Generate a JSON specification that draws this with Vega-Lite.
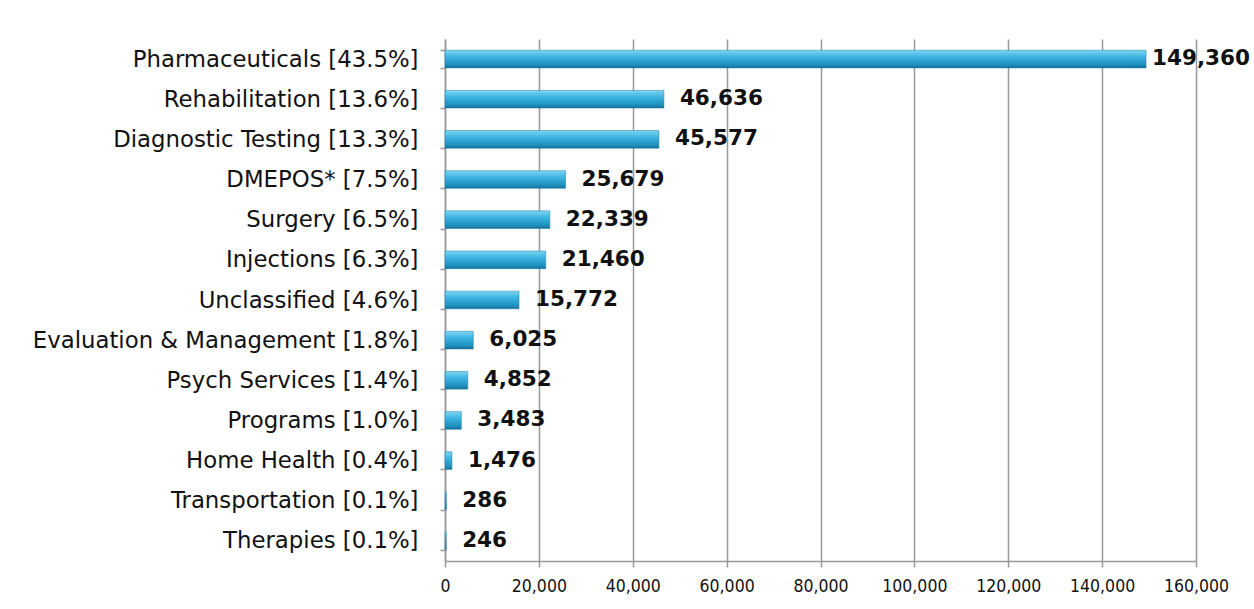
{
  "$schema": "https://vega.github.io/schema/vega-lite/v6.json",
  "autosize": {"type": "none"},
  "width": 751,
  "height": 522,
  "padding": {"left": 445, "top": 39, "right": 58, "bottom": 48},
  "background": "white",
  "config": {"view": {"stroke": null}},
  "data": {
    "values": [
      {"category": "Pharmaceuticals [43.5%]", "value": 149360},
      {"category": "Rehabilitation [13.6%]", "value": 46636},
      {"category": "Diagnostic Testing [13.3%]", "value": 45577},
      {"category": "DMEPOS* [7.5%]", "value": 25679},
      {"category": "Surgery [6.5%]", "value": 22339},
      {"category": "Injections [6.3%]", "value": 21460},
      {"category": "Unclassified [4.6%]", "value": 15772},
      {"category": "Evaluation & Management [1.8%]", "value": 6025},
      {"category": "Psych Services [1.4%]", "value": 4852},
      {"category": "Programs [1.0%]", "value": 3483},
      {"category": "Home Health [0.4%]", "value": 1476},
      {"category": "Transportation [0.1%]", "value": 286},
      {"category": "Therapies [0.1%]", "value": 246}
    ]
  },
  "encoding": {
    "y": {
      "field": "category", "type": "nominal", "sort": null, "title": null,
      "scale": {"paddingInner": 0.56, "paddingOuter": 0.28},
      "axis": {
        "labelFont": "DejaVu Sans", "labelFontSize": 22.8, "labelColor": "#111111",
        "labelPadding": 22, "tickBand": "extent", "tickSize": 5, "tickColor": "#999999",
        "tickWidth": 1.5, "domainColor": "#999999", "domainWidth": 1.5, "labelLimit": 500
      }
    },
    "x": {
      "field": "value", "type": "quantitative", "title": null,
      "scale": {"domain": [0, 160000], "nice": false},
      "axis": {
        "values": [0, 20000, 40000, 60000, 80000, 100000, 120000, 140000, 160000],
        "format": ",.0f", "grid": true, "gridColor": "#999999", "gridWidth": 1.5,
        "domainColor": "#999999", "domainWidth": 1.5, "tickColor": "#999999", "tickWidth": 1.5,
        "tickSize": 6, "labelFont": "DejaVu Sans Condensed", "labelFontSize": 17.5,
        "labelColor": "#111111", "labelPadding": 10, "labelFlush": false
      }
    }
  },
  "layer": [
    {
      "mark": {
        "type": "bar",
        "color": {
          "gradient": "linear", "x1": 0, "y1": 0, "x2": 0, "y2": 1,
          "stops": [
            {"offset": 0, "color": "#7fd6f2"},
            {"offset": 0.35, "color": "#3fb6e2"},
            {"offset": 0.8, "color": "#1f92c0"},
            {"offset": 1, "color": "#16709a"}
          ]
        },
        "stroke": "#1a7aa5", "strokeWidth": 0.5
      }
    },
    {
      "transform": [{"filter": "datum.value > 100000"}],
      "mark": {"type": "text", "align": "left", "baseline": "middle", "dx": 6,
               "font": "DejaVu Sans", "fontSize": 21.5, "fontWeight": "bold", "color": "#111111"},
      "encoding": {"text": {"field": "value", "type": "quantitative", "format": ","}}
    },
    {
      "transform": [{"filter": "datum.value <= 100000"}],
      "mark": {"type": "text", "align": "left", "baseline": "middle", "dx": 16,
               "font": "DejaVu Sans", "fontSize": 21.5, "fontWeight": "bold", "color": "#111111"},
      "encoding": {"text": {"field": "value", "type": "quantitative", "format": ","}}
    }
  ]
}
